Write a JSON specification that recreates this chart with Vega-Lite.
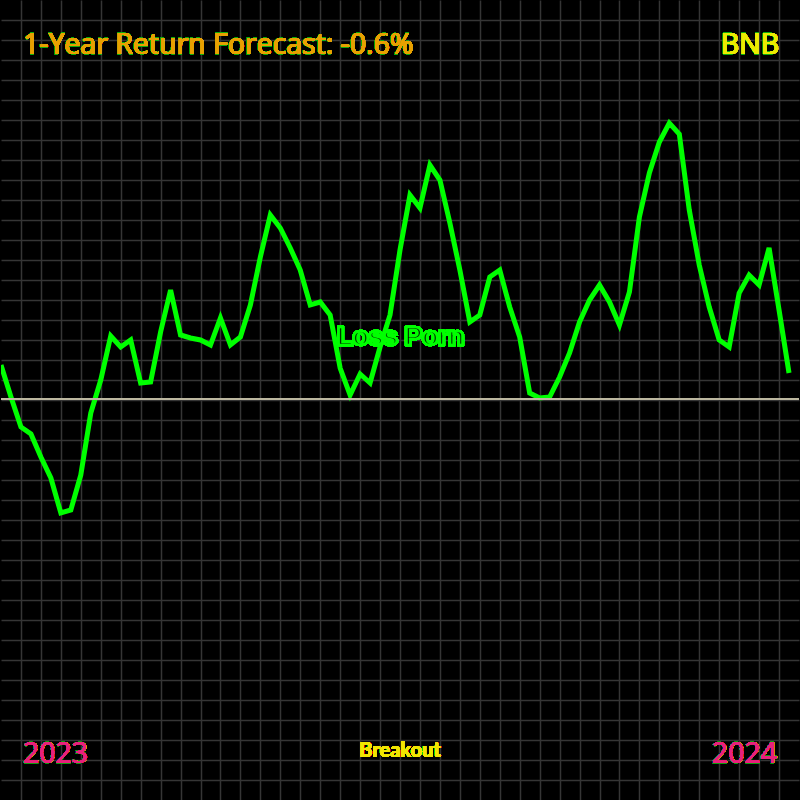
{
  "$schema": "https://vega.github.io/schema/vega-lite/v6.json",
  "width": 800,
  "height": 800,
  "autosize": {"type": "fit", "contains": "padding"},
  "padding": 0,
  "background": "#000000",
  "config": {
    "view": {"stroke": null},
    "axis": {"labels": false, "labelOverlap": false, "ticks": false, "domain": false, "title": null, "grid": true, "tickCount": 200, "gridColor": "#353535", "gridWidth": 1.5, "gridOpacity": 1}
  },
  "data": {"values": [
    {"i":0,"v":35},{"i":1,"v":3},{"i":2,"v":-27},{"i":3,"v":-34},{"i":4,"v":-57},{"i":5,"v":-78},{"i":6,"v":-113},{"i":7,"v":-110},{"i":8,"v":-75},{"i":9,"v":-13},
    {"i":10,"v":20},{"i":11,"v":64},{"i":12,"v":53},{"i":13,"v":60},{"i":14,"v":17},{"i":15,"v":18},{"i":16,"v":68},{"i":17,"v":110},{"i":18,"v":65},{"i":19,"v":62},
    {"i":20,"v":60},{"i":21,"v":55},{"i":22,"v":82},{"i":23,"v":55},{"i":24,"v":63},{"i":25,"v":95},{"i":26,"v":143},{"i":27,"v":185},{"i":28,"v":172},{"i":29,"v":152},
    {"i":30,"v":130},{"i":31,"v":95},{"i":32,"v":98},{"i":33,"v":85},{"i":34,"v":32},{"i":35,"v":5},{"i":36,"v":26},{"i":37,"v":17},{"i":38,"v":53},{"i":39,"v":85},
    {"i":40,"v":150},{"i":41,"v":205},{"i":42,"v":192},{"i":43,"v":235},{"i":44,"v":220},{"i":45,"v":177},{"i":46,"v":130},{"i":47,"v":78},{"i":48,"v":85},{"i":49,"v":123},
    {"i":50,"v":130},{"i":51,"v":93},{"i":52,"v":63},{"i":53,"v":7},{"i":54,"v":2},{"i":55,"v":3},{"i":56,"v":23},{"i":57,"v":47},{"i":58,"v":78},{"i":59,"v":100},
    {"i":60,"v":115},{"i":61,"v":98},{"i":62,"v":75},{"i":63,"v":108},{"i":64,"v":183},{"i":65,"v":227},{"i":66,"v":258},{"i":67,"v":277},{"i":68,"v":266},{"i":69,"v":190},
    {"i":70,"v":135},{"i":71,"v":93},{"i":72,"v":60},{"i":73,"v":53},{"i":74,"v":107},{"i":75,"v":125},{"i":76,"v":115},{"i":77,"v":152},{"i":78,"v":90},{"i":79,"v":27}
  ]},
  "layer": [
    {
      "mark": {"type": "line", "color": "#00ff00", "strokeWidth": 5, "strokeJoin": "miter", "clip": true},
      "encoding": {
        "x": {"field": "i", "type": "quantitative", "scale": {"domain": [0, 80], "nice": false, "zero": false},
              "axis": {"tickCount": 200, "values": [2,4,6,8,10,12,14,16,18,20,22,24,26,28,30,32,34,36,38,40,42,44,46,48,50,52,54,56,58,60,62,64,66,68,70,72,74,76,78]}},
        "y": {"field": "v", "type": "quantitative", "scale": {"domain": [-400, 400], "nice": false, "zero": false},
              "axis": {"tickCount": 200, "values": [-380,-360,-340,-320,-300,-280,-260,-240,-220,-200,-180,-160,-140,-120,-100,-80,-60,-40,-20,0,20,40,60,80,100,120,140,160,180,200,220,240,260,280,300,320,340,360,380]}}
      }
    },
    {
      "mark": {"type": "rule", "color": "#bdb8a0", "strokeWidth": 2},
      "encoding": {"y": {"datum": 1}}
    },
    {
      "mark": {"type": "text", "align": "left", "baseline": "alphabetic", "font": "Open Sans", "fontSize": 28.5, "fill": "#10b010", "stroke": "#10b010", "strokeWidth": 0.6},
      "encoding": {"x": {"datum": 2.2}, "y": {"datum": 346}, "text": {"value": "1-Year Return Forecast: -0.6%"}}
    },
    {
      "mark": {"type": "text", "align": "left", "baseline": "alphabetic", "font": "Open Sans", "fontSize": 28.5, "fill": "#e9a000"},
      "encoding": {"x": {"datum": 2.2}, "y": {"datum": 346}, "text": {"value": "1-Year Return Forecast: -0.6%"}}
    },
    {
      "mark": {"type": "text", "align": "right", "baseline": "alphabetic", "font": "Open Sans", "fontSize": 28.5, "fill": "#10b010", "stroke": "#10b010", "strokeWidth": 0.6},
      "encoding": {"x": {"datum": 78}, "y": {"datum": 346}, "text": {"value": "BNB"}}
    },
    {
      "mark": {"type": "text", "align": "right", "baseline": "alphabetic", "font": "Open Sans", "fontSize": 28.5, "fill": "#ecec00"},
      "encoding": {"x": {"datum": 78}, "y": {"datum": 346}, "text": {"value": "BNB"}}
    },
    {
      "mark": {"type": "text", "align": "left", "baseline": "alphabetic", "font": "Open Sans", "fontSize": 28.5, "fill": "#10a010", "stroke": "#10a010", "strokeWidth": 0.6},
      "encoding": {"x": {"datum": 2.2}, "y": {"datum": -363}, "text": {"value": "2023"}}
    },
    {
      "mark": {"type": "text", "align": "left", "baseline": "alphabetic", "font": "Open Sans", "fontSize": 28.5, "fill": "#e8207c"},
      "encoding": {"x": {"datum": 2.2}, "y": {"datum": -363}, "text": {"value": "2023"}}
    },
    {
      "mark": {"type": "text", "align": "right", "baseline": "alphabetic", "font": "Open Sans", "fontSize": 28.5, "fill": "#10a010", "stroke": "#10a010", "strokeWidth": 0.6},
      "encoding": {"x": {"datum": 77.8}, "y": {"datum": -363}, "text": {"value": "2024"}}
    },
    {
      "mark": {"type": "text", "align": "right", "baseline": "alphabetic", "font": "Open Sans", "fontSize": 28.5, "fill": "#e8207c"},
      "encoding": {"x": {"datum": 77.8}, "y": {"datum": -363}, "text": {"value": "2024"}}
    },
    {
      "mark": {"type": "text", "align": "center", "baseline": "alphabetic", "font": "Lato", "fontWeight": "bold", "fontSize": 20, "fill": "#f2e600"},
      "encoding": {"x": {"datum": 40}, "y": {"datum": -357}, "text": {"value": "Breakout"}}
    },
    {
      "mark": {"type": "text", "align": "center", "baseline": "alphabetic", "font": "Liberation Sans", "fontWeight": "bold", "fontSize": 26, "fill": "#000000", "stroke": "#00ff00", "strokeWidth": 2.5},
      "encoding": {"x": {"datum": 40.05}, "y": {"datum": 55}, "text": {"value": "Loss Porn"}}
    }
  ]
}
